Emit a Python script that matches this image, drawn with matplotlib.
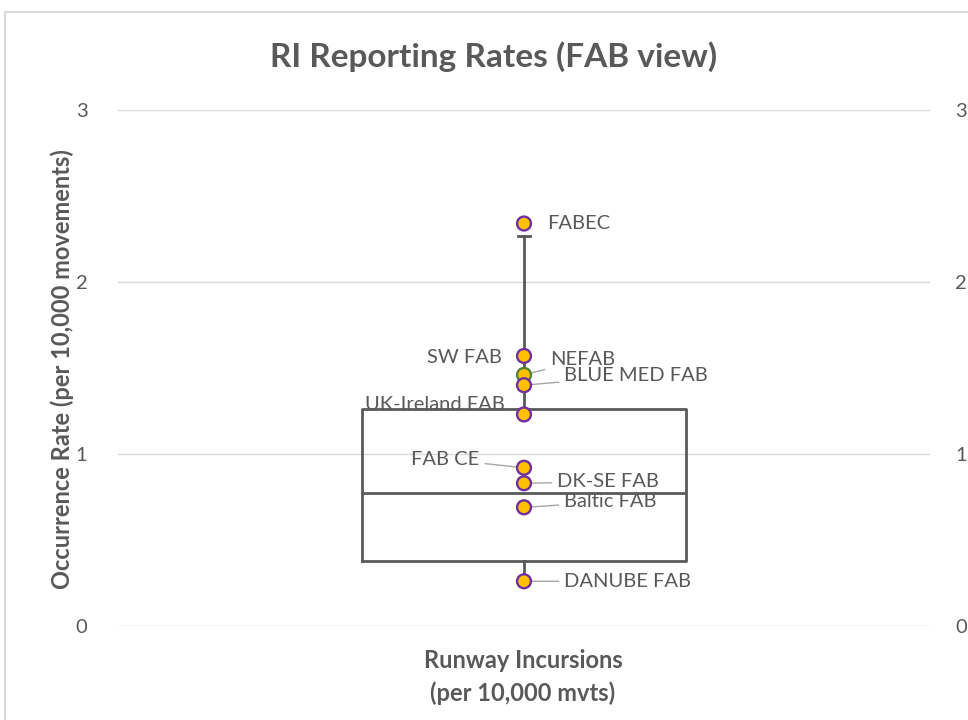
import matplotlib.pyplot as plt
from matplotlib.patches import Rectangle

plt.rcParams['font.family'] = ['Lato', 'DejaVu Sans']

# FAB reporting rates (per 10,000 movements)
fabs = ["FABEC", "SW FAB", "NEFAB", "BLUE MED FAB", "UK-Ireland FAB",
        "FAB CE", "DK-SE FAB", "Baltic FAB", "DANUBE FAB"]
rates = [2.34, 1.57, 1.46, 1.40, 1.23, 0.92, 0.83, 0.69, 0.26]
edge_cols = ["#7030A0", "#7030A0", "#548235", "#7030A0", "#7030A0",
             "#7030A0", "#7030A0", "#7030A0", "#7030A0"]
# label offsets (points) and alignment
offsets = [(17, 0), (-16, -1), (19, 11), (29, 7), (-14, 7),
           (-32, 6), (24, 1), (29, 4), (29, 0)]
ha = ["left", "right", "left", "left", "right", "right", "left", "left", "left"]
leader = [False, False, True, True, False, True, True, True, True]

# box plot summary
box_stats = dict(med=0.773, q1=0.378, q3=1.262, whislo=0.26, whishi=2.267)

grey = "#595959"

fig = plt.figure(figsize=(9.68, 7.2), dpi=100)
ax = fig.add_axes([118/968, 1-626/720, 812/968, 516/720])

fig.patches.append(Rectangle((5/968, -0.1), 1.1, 1-12/720+0.1, transform=fig.transFigure,
                             fill=False, edgecolor="#D9D9D9", linewidth=1.5))

ax.set_xlim(0, 2)
ax.set_ylim(0, 3)
ax.yaxis.grid(True, color="#D9D9D9", linewidth=1)
ax.set_axisbelow(True)
for s in ax.spines.values():
    s.set_visible(False)

ax.bxp([dict(box_stats)], positions=[1], widths=0.8, showfliers=False, capwidths=[0.03],
       boxprops=dict(color=grey, linewidth=2),
       medianprops=dict(color=grey, linewidth=2),
       whiskerprops=dict(color=grey, linewidth=2),
       capprops=dict(color=grey, linewidth=2))
ax.set_xlim(0, 2)
ax.set_xticks([])
ax.set_yticks([0, 1, 2, 3])
ax.tick_params(axis="y", length=0, labelsize=14.5, labelcolor=grey, pad=22)

ax.scatter([1]*len(rates), rates, s=100, c="#FFC000", edgecolors=edge_cols,
           linewidths=1.7, zorder=5)

for name, r, off, h, ld in zip(fabs, rates, offsets, ha, leader):
    ap = dict(arrowstyle="-", color="#A6A6A6", linewidth=1, shrinkA=2, shrinkB=4) if ld else None
    ax.annotate(name, (1, r), xytext=off, textcoords="offset points",
                ha=h, va="center", fontsize=14.5, color=grey, arrowprops=ap)

ax2 = ax.twinx()
ax2.set_ylim(0, 3)
ax2.set_yticks([0, 1, 2, 3])
for s in ax2.spines.values():
    s.set_visible(False)
ax2.tick_params(axis="y", length=0, labelsize=14.5, labelcolor=grey, pad=18)

fig.text(494/968, 1-57/720, "RI Reporting Rates (FAB view)", ha="center", va="center",
         fontsize=24, fontweight="bold", color=grey)
fig.text(62/968, 1-369/720, "Occurrence Rate (per 10,000 movements)", rotation=90,
         ha="center", va="center", fontsize=17, fontweight="bold", color=grey)
fig.text(523/968, 1-677/720, "Runway Incursions\n(per 10,000 mvts)", ha="center",
         va="center", fontsize=17, fontweight="bold", color=grey, linespacing=1.45)

fig.savefig("out.png", dpi=100)
